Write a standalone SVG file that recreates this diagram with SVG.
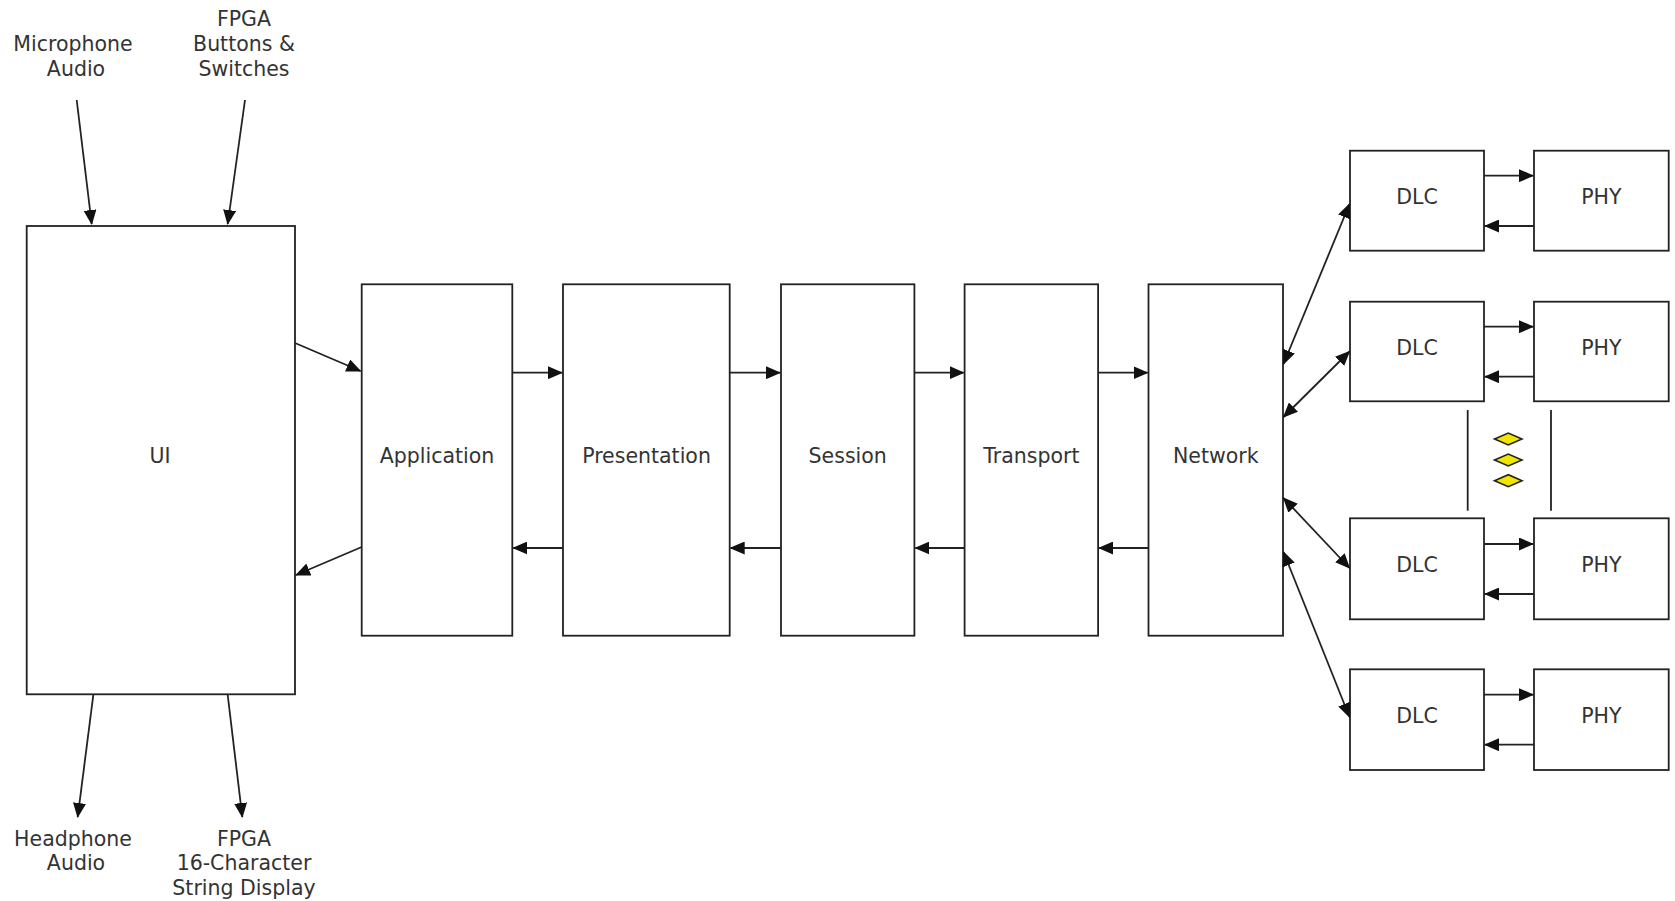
<svg xmlns="http://www.w3.org/2000/svg" width="1675" height="901" viewBox="0 0 1675 901">
<style>
.box{fill:#fff;stroke:#222;stroke-width:1.8}
.t{font-family:"DejaVu Sans",sans-serif;font-size:20.5px;fill:#333;text-anchor:middle}
.c{stroke:#222;stroke-width:1.8;fill:none;marker-end:url(#ah)}
.d{marker-start:url(#ahs)}
.v{stroke:#222;stroke-width:1.8}
.dm{fill:#f2e600;stroke:#222;stroke-width:1.6}
</style>
<defs>
<marker id="ah" markerUnits="userSpaceOnUse" markerWidth="15" markerHeight="13" refX="14" refY="6.5" orient="auto"><path d="M0,0 L15,6.5 L0,13 z" fill="#111"/></marker>
<marker id="ahs" markerUnits="userSpaceOnUse" markerWidth="15" markerHeight="13" refX="14" refY="6.5" orient="auto-start-reverse"><path d="M0,0 L15,6.5 L0,13 z" fill="#111"/></marker>
</defs>
<rect width="1675" height="901" fill="#fff"/>

<g id="ext-mic"><text class="t" x="73" y="51">Microphone</text><text class="t" x="76" y="76">Audio</text></g>
<g id="ext-buttons"><text class="t" x="244" y="26">FPGA</text><text class="t" x="244" y="51">Buttons &amp;</text><text class="t" x="244" y="76">Switches</text></g>
<g id="ext-headphone"><text class="t" x="73" y="846">Headphone</text><text class="t" x="76" y="870">Audio</text></g>
<g id="ext-display"><text class="t" x="244" y="846">FPGA</text><text class="t" x="244" y="870">16-Character</text><text class="t" x="244" y="895">String Display</text></g>

<g id="ui"><rect class="box" x="26.7" y="226" width="268.3" height="468.3"/><text class="t" x="160" y="462.5">UI</text></g>
<g id="application"><rect class="box" x="361.7" y="284.3" width="150.6" height="351.4"/><text class="t" x="437" y="462.5">Application</text></g>
<g id="presentation"><rect class="box" x="563" y="284.3" width="166.7" height="351.4"/><text class="t" x="646.5" y="462.5">Presentation</text></g>
<g id="session"><rect class="box" x="781" y="284.3" width="133.4" height="351.4"/><text class="t" x="847.7" y="462.5">Session</text></g>
<g id="transport"><rect class="box" x="964.6" y="284.3" width="133.5" height="351.4"/><text class="t" x="1031.4" y="462.5">Transport</text></g>
<g id="network"><rect class="box" x="1148.5" y="284.3" width="134.5" height="351.4"/><text class="t" x="1215.8" y="462.5">Network</text></g>

<g id="dlc1"><rect class="box" x="1350" y="150.7" width="134" height="100"/><text class="t" x="1417" y="203.5">DLC</text></g>
<g id="phy1"><rect class="box" x="1534" y="150.7" width="134.7" height="100"/><text class="t" x="1601.3" y="203.5">PHY</text></g>
<g id="dlc2"><rect class="box" x="1350" y="301.7" width="134" height="99.6"/><text class="t" x="1417" y="354.5">DLC</text></g>
<g id="phy2"><rect class="box" x="1534" y="301.7" width="134.7" height="99.6"/><text class="t" x="1601.3" y="354.5">PHY</text></g>
<g id="dlc3"><rect class="box" x="1350" y="518.3" width="134" height="101"/><text class="t" x="1417" y="571.5">DLC</text></g>
<g id="phy3"><rect class="box" x="1534" y="518.3" width="134.7" height="101"/><text class="t" x="1601.3" y="571.5">PHY</text></g>
<g id="dlc4"><rect class="box" x="1350" y="669.3" width="134" height="100.7"/><text class="t" x="1417" y="722.5">DLC</text></g>
<g id="phy4"><rect class="box" x="1534" y="669.3" width="134.7" height="100.7"/><text class="t" x="1601.3" y="722.5">PHY</text></g>

<g id="ellipsis">
<line class="v" x1="1467.7" y1="410" x2="1467.7" y2="510.7"/>
<line class="v" x1="1551" y1="410" x2="1551" y2="510.7"/>
<path class="dm" d="M1494.5,439 L1508.3,433 L1522,439 L1508.3,445 z"/>
<path class="dm" d="M1494.5,460 L1508.3,454 L1522,460 L1508.3,466 z"/>
<path class="dm" d="M1494.5,480.7 L1508.3,474.7 L1522,480.7 L1508.3,486.7 z"/>
</g>

<g id="connectors">
<line class="c" x1="76.7" y1="100" x2="91.7" y2="224"/>
<line class="c" x1="245" y1="100" x2="227.7" y2="224"/>
<line class="c" x1="93.3" y1="695" x2="77.7" y2="817"/>
<line class="c" x1="227.7" y1="695" x2="242.3" y2="817"/>

<line class="c" x1="295" y1="343" x2="360.5" y2="371"/>
<line class="c" x1="361.7" y1="547" x2="296" y2="575"/>

<line class="c" x1="512.3" y1="372.7" x2="562" y2="372.7"/>
<line class="c" x1="563" y1="548" x2="513.3" y2="548"/>
<line class="c" x1="729.7" y1="372.7" x2="780" y2="372.7"/>
<line class="c" x1="781" y1="548" x2="730.7" y2="548"/>
<line class="c" x1="914.4" y1="372.7" x2="963.6" y2="372.7"/>
<line class="c" x1="964.6" y1="548" x2="915.4" y2="548"/>
<line class="c" x1="1098.1" y1="372.7" x2="1147.5" y2="372.7"/>
<line class="c" x1="1148.5" y1="548" x2="1099.1" y2="548"/>

<line class="c d" x1="1283.5" y1="364" x2="1349.5" y2="204"/>
<line class="c d" x1="1283.5" y1="417" x2="1349.5" y2="351.5"/>
<line class="c d" x1="1283.5" y1="498" x2="1349.5" y2="568"/>
<line class="c d" x1="1283.5" y1="552" x2="1349.5" y2="717"/>

<line class="c" x1="1484" y1="175.7" x2="1533" y2="175.7"/>
<line class="c" x1="1534" y1="226" x2="1485" y2="226"/>
<line class="c" x1="1484" y1="326.7" x2="1533" y2="326.7"/>
<line class="c" x1="1534" y1="376.7" x2="1485" y2="376.7"/>
<line class="c" x1="1484" y1="544" x2="1533" y2="544"/>
<line class="c" x1="1534" y1="594" x2="1485" y2="594"/>
<line class="c" x1="1484" y1="694.7" x2="1533" y2="694.7"/>
<line class="c" x1="1534" y1="744.7" x2="1485" y2="744.7"/>
</g>
</svg>
